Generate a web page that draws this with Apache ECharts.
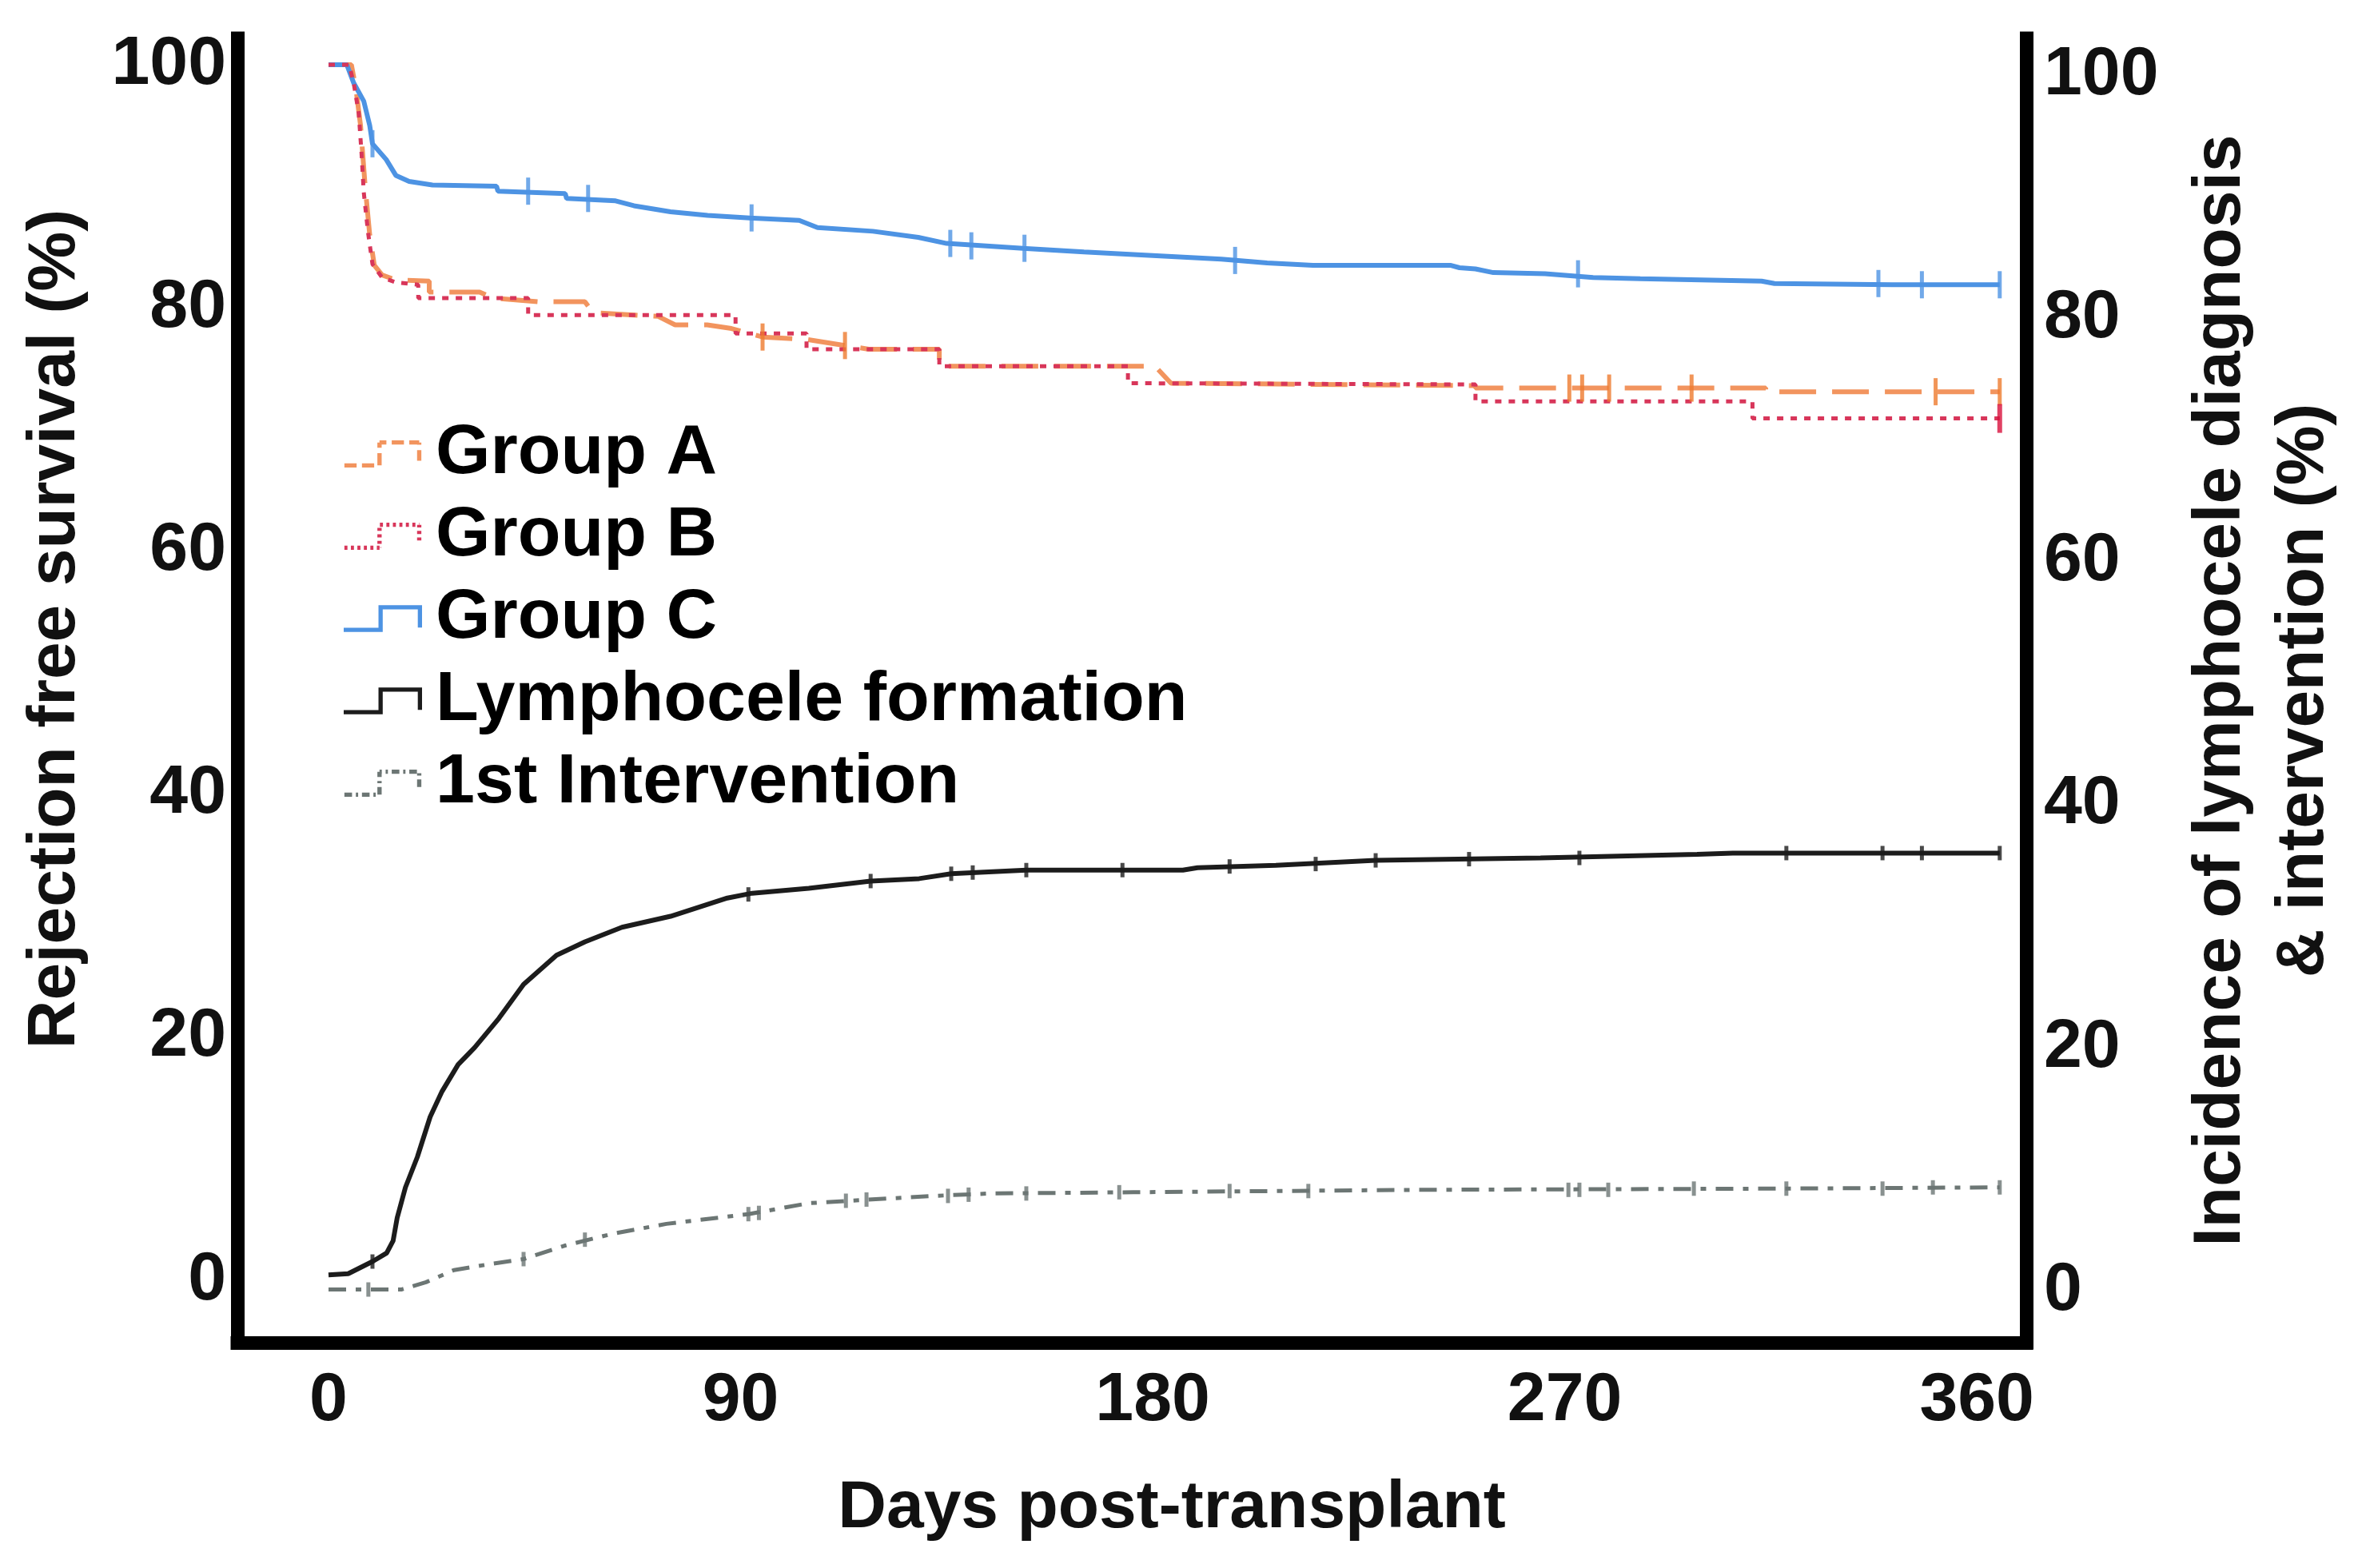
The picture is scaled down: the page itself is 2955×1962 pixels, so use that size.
<!DOCTYPE html>
<html><head><meta charset="utf-8">
<script src="https://cdn.jsdelivr.net/npm/echarts@6/dist/echarts.min.js"></script>
<style>html,body{margin:0;padding:0;background:#fff}#c{width:2955px;height:1962px}</style>
</head><body><div id="c"></div>
<script>
// ---------- data ----------
const xTickLabels = [0, 90, 180, 270, 360];
const yTickLabels = [0, 20, 40, 60, 80, 100];
const seriesNames = ['Group A', 'Group B', 'Group C', 'Lymphocele formation', '1st Intervention'];

const groupA = [[0,100],[5,100],[6,98],[7,95],[8,90],[9,86],[10,83.5],[11.7,82.7],[14.7,82.3],[22,82.2],[22,81.3],[33,81.3],[36,80.8],[46,80.5],[56,80.5],[57.8,79.6],[72,79.3],[75.7,78.6],[82.7,78.6],[88,78.3],[94.8,77.6],[104.4,77.4],[112.8,76.9],[118,76.6],[133.4,76.6],[133.4,75.2],[180.5,75.2],[184,73.8],[250.5,73.6],[250.5,73.4],[313.9,73.4],[313.9,73.1],[365,73.1]];
const groupB = [[0,100],[4.5,100],[5.5,98.5],[6.6,96],[7.2,92.8],[7.7,89.5],[8.6,86.3],[9.6,83.6],[11.7,82.5],[14.7,82.1],[19.6,81.9],[19.6,80.8],[43.6,80.8],[43.6,79.4],[88.9,79.4],[88.9,77.9],[104.4,77.9],[104.4,76.6],[133.4,76.6],[133.4,75.2],[174.6,75.2],[174.6,73.8],[250.5,73.7],[250.5,72.3],[311,72.3],[311,70.9],[365,70.9]];
const groupC = [[0,100],[4,100],[5.5,98.5],[7.7,97],[9,95],[9.6,93.5],[12.6,92.2],[14.7,90.9],[17.6,90.4],[22.7,90.1],[36.7,90.0],[37,89.6],[51.7,89.4],[52,89.0],[62.7,88.8],[66.7,88.4],[74.7,87.9],[82.8,87.6],[92,87.4],[102.8,87.2],[106.8,86.6],[118.9,86.3],[128.8,85.8],[135,85.3],[151.7,84.9],[165,84.6],[180,84.3],[195,84.0],[205,83.7],[215,83.5],[245,83.5],[247,83.3],[250.5,83.2],[254.4,82.9],[265.7,82.8],[276.2,82.5],[286.5,82.4],[313,82.2],[315.8,82.0],[341.5,81.9],[365,81.9]];
const lymphocele = [[0,1.3],[4.3,1.4],[9.6,2.4],[12.7,3.1],[14.1,4.1],[15,6.0],[16.8,8.5],[19.4,11.0],[22.2,14.3],[24.8,16.4],[28.3,18.6],[31.9,20.0],[37.2,22.4],[42.6,25.2],[49.8,27.6],[56,28.7],[64.1,29.9],[74.7,30.8],[87.1,32.3],[92.5,32.7],[104.9,33.1],[118.4,33.7],[129,33.9],[136,34.3],[141.4,34.4],[152.4,34.6],[186.6,34.6],[189.8,34.8],[206.9,35.0],[228.7,35.4],[264.7,35.6],[298.9,35.9],[306.7,36.0],[365,36.0]];
const intervention = [[0,0.1],[15.9,0.1],[21.3,0.7],[27.4,1.7],[35.4,2.2],[42.6,2.6],[51.5,3.7],[62.2,4.7],[73.8,5.5],[91.7,6.3],[104.9,7.2],[113.8,7.4],[132.2,7.8],[144.6,8.0],[175.8,8.1],[238.1,8.3],[316,8.4],[365,8.5]];

// censored observations (tick marks)
const censorA = [[94.8,77.6],[112.8,76.9],[271,73.4],[273.8,73.4],[279.7,73.4],[297.7,73.4],[351,73.1],[365,73.1]];
const censorB = [[365,70.9]];
const censorC = [[9.6,93.5],[43.6,89.6],[56.7,89.0],[92.4,87.4],[135.8,85.3],[140.4,85.1],[152,84.9],[198,83.9],[272.9,82.8],[338.5,82.0],[348,81.9],[365,81.9]];
const censorL = [[9.6,2.4],[91.7,32.6],[118.4,33.7],[136,34.3],[140.7,34.4],[152.4,34.6],[173.4,34.6],[196.8,34.9],[215.6,35.1],[228.7,35.4],[249.1,35.5],[273.2,35.6],[318.4,36.0],[339.4,36.0],[348,36.0],[365,36.0]];
const censorI = [[8.7,0.1],[42.6,2.6],[56,4.2],[91.7,6.3],[94,6.4],[113,7.4],[117.5,7.5],[135.3,7.8],[139.8,7.9],[152.4,8.0],[172.7,8.1],[196.8,8.2],[214,8.2],[270.8,8.3],[273.2,8.3],[279.5,8.3],[298.2,8.4],[318.4,8.4],[339.4,8.4],[350.4,8.5],[365,8.5]];

// ---------- styling ----------
const FONT = 'Liberation Sans';
const colA = '#f2945e', colB = '#d8365a', colC = '#4d93e3', colL = '#1c1c1c', colI = '#6c7674';

// step-shaped legend glyph, optionally dashed, built as filled rectangles
function stepIcon(dash) {
  const pts = [[0,33],[46,33],[46,3],[98,3],[98,27]];
  const h = 2.8;
  let d = '';
  const rect = (x0,y0,x1,y1) => { d += `M${x0},${y0}L${x1},${y0}L${x1},${y1}L${x0},${y1}Z`; };
  const piece = (A, B, t0, t1, ext) => {
    const L = Math.hypot(B[0]-A[0], B[1]-A[1]);
    const ux = (B[0]-A[0])/L, uy = (B[1]-A[1])/L;
    const ax = A[0]+ux*t0, ay = A[1]+uy*t0, bx = A[0]+ux*t1, by = A[1]+uy*t1;
    const horiz = Math.abs(uy) < 0.5;
    const ex = horiz ? ext : h, ey = horiz ? h : ext;
    rect(Math.min(ax,bx)-ex, Math.min(ay,by)-ey, Math.max(ax,bx)+ex, Math.max(ay,by)+ey);
  };
  let idx = 0, used = 0;
  for (let i = 0; i < pts.length-1; i++) {
    const A = pts[i], B = pts[i+1];
    const L = Math.hypot(B[0]-A[0], B[1]-A[1]);
    if (!dash) { piece(A,B,0,L,h); continue; }
    let t = 0;
    while (t < L - 1e-6) {
      const step = Math.min(dash[idx]-used, L-t);
      if (idx % 2 === 0) piece(A,B,t,t+step,0);
      t += step; used += step;
      if (used >= dash[idx]-1e-6) { idx = (idx+1) % dash.length; used = 0; }
    }
  }
  return 'path://' + d;
}

const lineSeries = (name, data, color, type, yIdx, z, width) => ({
  name, type: 'line', data, yAxisIndex: yIdx, showSymbol: false, symbol: 'none',
  lineStyle: { color, width, type }, itemStyle: { color }, z, silent: true, animation: false
});
const censorSeries = (data, color, yIdx, size, z) => ({
  type: 'scatter', data, yAxisIndex: yIdx, symbol: 'rect', symbolSize: size,
  itemStyle: { color }, z, silent: true, animation: false
});

const chart = echarts.init(document.getElementById('c'), null, { renderer: 'canvas' });
chart.setOption({
  backgroundColor: '#fff',
  animation: false,
  grid: { left: 297, right: 420, top: 48, bottom: 282, containLabel: false },
  legend: {
    orient: 'vertical', left: 425, top: 519, itemGap: 15,
    itemWidth: 98, itemHeight: 34, selectedMode: false,
    itemStyle: { borderWidth: 0 },
    textStyle: { fontFamily: FONT, fontWeight: 'bold', fontSize: 88, lineHeight: 88, color: '#000', padding: [0,0,0,12] },
    data: [
      { name: seriesNames[0], icon: stepIcon([16,7]) },
      { name: seriesNames[1], icon: stepIcon([4,4.5]) },
      { name: seriesNames[2], icon: stepIcon(null) },
      { name: seriesNames[3], icon: stepIcon(null) },
      { name: seriesNames[4], icon: stepIcon([10,5,3,5]) }
    ]
  },
  xAxis: {
    type: 'value', min: -19.9, max: 370.8,
    axisLine: { show: true, onZero: false, lineStyle: { color: '#000', width: 17, cap: 'square' } },
    axisTick: { show: false }, splitLine: { show: false },
    axisLabel: { customValues: xTickLabels, margin: 30, fontFamily: FONT, fontWeight: 'bold', fontSize: 86, color: '#111' },
    name: 'Days post-transplant', nameLocation: 'middle', nameGap: 166,
    nameTextStyle: { fontFamily: FONT, fontWeight: 'bold', fontSize: 84, color: '#111', padding: [0,0,0,100] }
  },
  yAxis: [
    {
      type: 'value', position: 'left', min: -5.13, max: 102.17,
      axisLine: { show: true, onZero: false, lineStyle: { color: '#000', width: 17, cap: 'square' } },
      axisTick: { show: false }, splitLine: { show: false },
      axisLabel: { customValues: yTickLabels, margin: 14, fontFamily: FONT, fontWeight: 'bold', fontSize: 86, color: '#111' },
      name: 'Rejection free survival (%)', nameLocation: 'middle', nameGap: 185,
      nameTextStyle: { fontFamily: FONT, fontWeight: 'bold', fontSize: 84, color: '#111', padding: [0,0,0,154] }
    },
    {
      type: 'value', position: 'right', min: -4.27, max: 103.02,
      axisLine: { show: true, onZero: false, lineStyle: { color: '#000', width: 17, cap: 'square' } },
      axisTick: { show: false }, splitLine: { show: false },
      axisLabel: { customValues: yTickLabels, margin: 22, fontFamily: FONT, fontWeight: 'bold', fontSize: 86, color: '#111' },
      name: 'Incidence of lymphocele diagnosis\n& intervention (%)', nameLocation: 'middle', nameGap: 192,
      nameTextStyle: { fontFamily: FONT, fontWeight: 'bold', fontSize: 84, lineHeight: 104, color: '#111' }
    }
  ],
  series: [
    lineSeries(seriesNames[0], groupA, colA, [46,20], 0, 3, 6),
    lineSeries(seriesNames[1], groupB, colB, [8,9], 0, 4, 5),
    lineSeries(seriesNames[2], groupC, colC, 'solid', 0, 3, 6),
    lineSeries(seriesNames[3], lymphocele, colL, 'solid', 1, 3, 6),
    lineSeries(seriesNames[4], intervention, colI, [22,12,7,12], 1, 3, 5),
    censorSeries(censorA, '#ee7a2e', 0, [5,34], 5),
    censorSeries(censorB, '#d8103c', 0, [6,36], 5),
    censorSeries(censorC, colC, 0, [5,34], 5),
    censorSeries(censorL, colL, 1, [5,18], 5),
    censorSeries(censorI, colI, 1, [5,18], 5)
  ]
});
</script>
</body></html>
